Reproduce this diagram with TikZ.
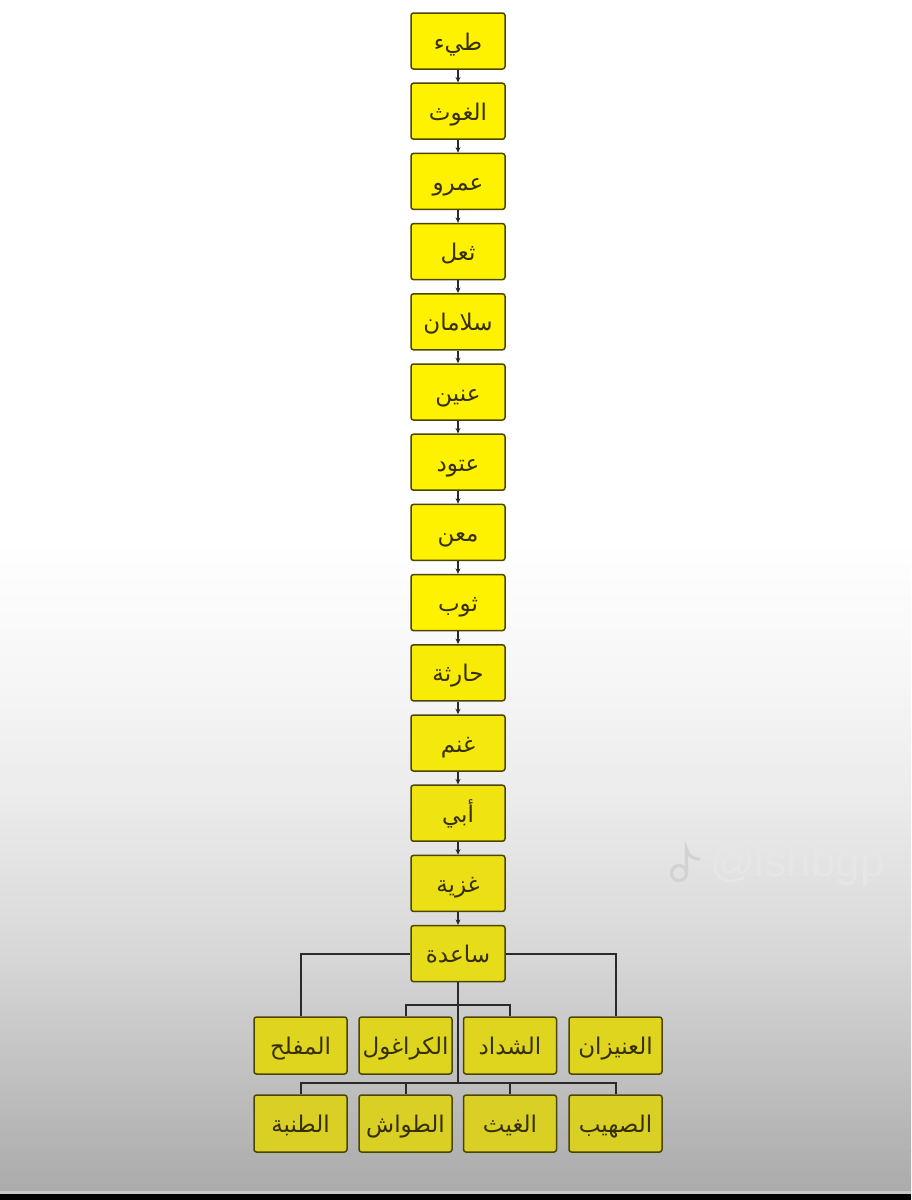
\documentclass[tikz,border=0pt]{standalone}
\usepackage{fontspec}
\setmainfont{Liberation Sans}
\newfontfamily\arabicfont[Script=Arabic]{DejaVu Sans}
\TeXXeTstate=1
\usetikzlibrary{arrows.meta}
\definecolor{boxline}{HTML}{4A4600}
\definecolor{txt}{HTML}{363000}
\definecolor{conn}{HTML}{2A2A2A}
\definecolor{wmark}{HTML}{E6E6E6}
\definecolor{wmedge}{HTML}{D2D2D2}
\definecolor{bgA}{HTML}{F6F6F6}
\definecolor{bgA2}{HTML}{EBEBEB}
\definecolor{bgB}{HTML}{D8D8D8}
\definecolor{bgC}{HTML}{B2B2B2}
\definecolor{bgD}{HTML}{ABABAB}
\definecolor{bgLine}{HTML}{C8C8C8}
\newcommand\artext[1]{\beginR #1\endR}
\tikzset{
  famnode/.style={draw=boxline, line width=1.5pt, rounded corners=2.5pt,
    minimum width=94pt, minimum height=56pt, inner sep=0pt, text=txt,
    text height=22pt, text depth=4pt,
    font=\arabicfont\fontsize{23}{26}\selectfont},
  kid/.style={famnode, minimum width=93pt, minimum height=57pt},
  arr/.style={draw=conn, line width=1.1pt, -{Stealth[length=5.5pt,width=5pt]}},
  link/.style={draw=conn, line width=2pt},
}
\begin{document}
\begin{tikzpicture}[x=1pt,y=-1pt]
\useasboundingbox (0,0) rectangle (911,1200);
% background
\fill[white] (0,0) rectangle (911,541);
\shade[top color=white, bottom color=bgA] (0,540) rectangle (911,681);
\shade[top color=bgA, bottom color=bgA2] (0,680) rectangle (911,801);
\shade[top color=bgA2, bottom color=bgB] (0,800) rectangle (911,951);
\shade[top color=bgB, bottom color=bgC] (0,950) rectangle (911,1151);
\shade[top color=bgC, bottom color=bgD] (0,1150) rectangle (911,1192);
\fill[bgLine] (0,1191) rectangle (911,1194);
\fill[black] (0,1194) rectangle (911,1200);
% watermark
\draw[wmedge, line width=3.2pt, line cap=round] (679,873) circle[radius=7.5];
\draw[wmedge, line width=3.2pt, line cap=round] (686.5,873) -- (686.5,849) .. controls (688,856) and (693,859) .. (699,859);
\node[text=wmark, font=\fontsize{44}{50}\selectfont, anchor=base west, inner sep=0pt] (wm) at (710,876) {@ishbgp};
% column
\foreach \i/\t/\k in {0/طيء/100, 1/الغوث/100, 2/عمرو/100, 3/ثعل/100, 4/سلامان/100, 5/عنين/100, 6/عتود/100, 7/معن/100, 8/ثوب/100, 9/حارثة/97, 10/غنم/95, 11/أبي/93, 12/غزية/91, 13/ساعدة/89}
  \node[famnode, fill=yellow!\k!black] (n\i) at (458,{41+70.2*\i}) {\artext{\t}};
\foreach \i in {0,...,12}{
  \pgfmathtruncatemacro\j{\i+1}
  \draw[arr] (n\i.south) -- (n\j.north);
}
% children
\node[kid, fill=yellow!86!black] (a1) at (300.5,1045.5) {\artext{المفلح}};
\node[kid, fill=yellow!86!black] (a2) at (405.5,1045.5) {\artext{الكراغول}};
\node[kid, fill=yellow!86!black] (a3) at (510,1045.5) {\artext{الشداد}};
\node[kid, fill=yellow!86!black] (a4) at (615.5,1045.5) {\artext{العنيزان}};
\node[kid, fill=yellow!83!black] (b1) at (300.5,1123.5) {\artext{الطنبة}};
\node[kid, fill=yellow!83!black] (b2) at (405.5,1123.5) {\artext{الطواش}};
\node[kid, fill=yellow!83!black] (b3) at (510,1123.5) {\artext{الغيث}};
\node[kid, fill=yellow!83!black] (b4) at (615.5,1123.5) {\artext{الصهيب}};
\coordinate (j1) at (458,1005);
\coordinate (j2) at (458,1083);
\draw[link] (n13.west) -| (a1.north);
\draw[link] (n13.east) -| (a4.north);
\draw[link] (n13.south) -- (j2);
\draw[link] (a2.north) |- (j1) -| (a3.north);
\draw[link] (b1.north) |- (j2) -| (b4.north);
\draw[link] (b2.north) -- (b2.north |- j2);
\draw[link] (b3.north) -- (b3.north |- j2);
\end{tikzpicture}
\end{document}
